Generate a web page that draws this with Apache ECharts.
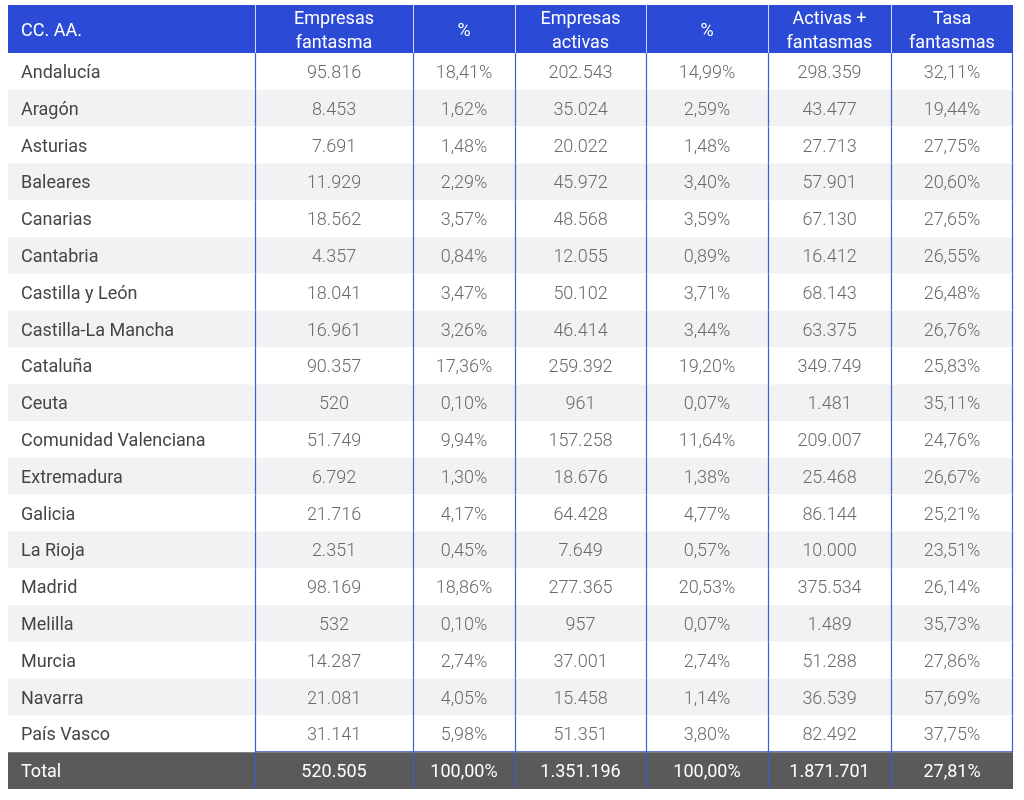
<!DOCTYPE html>
<html>
<head>
<meta charset="utf-8">
<script src="https://cdn.jsdelivr.net/npm/echarts@6/dist/echarts.min.js"></script>
<style>
html,body{margin:0;padding:0;background:#fff;}
#chart{width:1024px;height:800px;}
</style>
</head>
<body>
<div id="chart"></div>
<script>
// ---- data ----
const headers = ['CC. AA.', 'Empresas\nfantasma', '%', 'Empresas\nactivas', '%', 'Activas +\nfantasmas', 'Tasa\nfantasmas'];
const regions = ['Andalucía', 'Aragón', 'Asturias', 'Baleares', 'Canarias', 'Cantabria', 'Castilla y León',
  'Castilla-La Mancha', 'Cataluña', 'Ceuta', 'Comunidad Valenciana', 'Extremadura', 'Galicia', 'La Rioja',
  'Madrid', 'Melilla', 'Murcia', 'Navarra', 'País Vasco', 'Total'];
const empresasFantasma = [95816, 8453, 7691, 11929, 18562, 4357, 18041, 16961, 90357, 520, 51749, 6792, 21716, 2351, 98169, 532, 14287, 21081, 31141, 520505];
const pctFantasma = [18.41, 1.62, 1.48, 2.29, 3.57, 0.84, 3.47, 3.26, 17.36, 0.10, 9.94, 1.30, 4.17, 0.45, 18.86, 0.10, 2.74, 4.05, 5.98, 100.00];
const empresasActivas = [202543, 35024, 20022, 45972, 48568, 12055, 50102, 46414, 259392, 961, 157258, 18676, 64428, 7649, 277365, 957, 37001, 15458, 51351, 1351196];
const pctActivas = [14.99, 2.59, 1.48, 3.40, 3.59, 0.89, 3.71, 3.44, 19.20, 0.07, 11.64, 1.38, 4.77, 0.57, 20.53, 0.07, 2.74, 1.14, 3.80, 100.00];
const activasMasFantasmas = [298359, 43477, 27713, 57901, 67130, 16412, 68143, 63375, 349749, 1481, 209007, 25468, 86144, 10000, 375534, 1489, 51288, 36539, 82492, 1871701];
const tasaFantasmas = [32.11, 19.44, 27.75, 20.60, 27.65, 26.55, 26.48, 26.76, 25.83, 35.11, 24.76, 26.67, 25.21, 23.51, 26.14, 35.73, 27.86, 57.69, 37.75, 27.81];

// ---- layout (table units along x) ----
const colEdges = [0, 247, 405, 507, 638, 760, 883, 1005];

function fmtInt(v) {
  return String(v).replace(/\B(?=(\d{3})+(?!\d))/g, '.');
}
function fmtPct(v) {
  return v.toFixed(2).replace('.', ',') + '%';
}
const columnsData = [empresasFantasma, pctFantasma, empresasActivas, pctActivas, activasMasFantasmas, tasaFantasmas];
const columnFmt = [fmtInt, fmtPct, fmtInt, fmtPct, fmtInt, fmtPct];

function cellText(c, r) {
  if (c === 0) return regions[r];
  return columnFmt[c - 1](columnsData[c - 1][r]);
}

const bodyData = [];
for (let r = 0; r < regions.length; r++) {
  for (let c = 0; c < headers.length; c++) bodyData.push([c, r]);
}
const headerData = headers.map((h, c) => [c, 0]);

const BLUE = '#2b4bd6';
const LINE = '#3f5cd6';
const lastRow = regions.length - 1;

function renderBody(params, api) {
  const c = api.value(0), r = api.value(1);
  const p0 = api.coord([colEdges[c], r]);
  const p1 = api.coord([colEdges[c + 1], r]);
  const h = api.size([0, 1])[1];
  const x0 = p0[0], x1 = p1[0], yc = p0[1], y0 = yc - h / 2, y1 = yc + h / 2;
  const isTotal = r === lastRow;
  const fillBg = isTotal ? '#5a5a5a' : (r % 2 === 1 ? '#f1f2f4' : '#ffffff');
  const children = [{
    type: 'rect', shape: { x: x0, y: y0, width: x1 - x0, height: h },
    style: { fill: fillBg }
  }];
  const txtColor = isTotal ? '#ffffff' : (c === 0 ? '#454545' : '#6a6a6a');
  const weight = isTotal ? 400 : (c === 0 ? 400 : 300);
  children.push({
    type: 'text',
    style: {
      text: cellText(c, r),
      x: c === 0 ? x0 + 13 : (x0 + x1) / 2,
      y: yc + 2,
      align: c === 0 ? 'left' : 'center',
      verticalAlign: 'middle',
      fontFamily: 'Roboto',
      fontSize: 18,
      fontWeight: weight,
      fill: txtColor
    }
  });
  if (c >= 1) {
    children.push({ type: 'line', shape: { x1: x0 + 0.5, y1: y0, x2: x0 + 0.5, y2: y1 }, style: { stroke: LINE, lineWidth: 1.2 } });
  }
  if (c === headers.length - 1 && !isTotal) {
    children.push({ type: 'line', shape: { x1: x1 - 0.5, y1: y0, x2: x1 - 0.5, y2: y1 }, style: { stroke: LINE, lineWidth: 1.2 } });
  }
  if (r === lastRow - 1 && c >= 1) {
    children.push({ type: 'line', shape: { x1: x0, y1: y1 - 0.5, x2: x1, y2: y1 - 0.5 }, style: { stroke: LINE, lineWidth: 1 } });
  }
  return { type: 'group', children };
}

function renderHeader(params, api) {
  const c = api.value(0);
  const p0 = api.coord([colEdges[c], 0]);
  const p1 = api.coord([colEdges[c + 1], 0]);
  const h = api.size([0, 1])[1];
  const x0 = p0[0], x1 = p1[0], yc = p0[1], y0 = yc - h / 2, y1 = yc + h / 2;
  const children = [{
    type: 'rect', shape: { x: x0, y: y0, width: x1 - x0, height: h },
    style: { fill: BLUE }
  }, {
    type: 'text',
    style: {
      text: headers[c],
      x: c === 0 ? x0 + 13 : (x0 + x1) / 2,
      y: yc + 2,
      align: c === 0 ? 'left' : 'center',
      verticalAlign: 'middle',
      fontFamily: 'Roboto',
      fontSize: 18,
      lineHeight: 24,
      fontWeight: 400,
      fill: '#ffffff'
    }
  }];
  if (c >= 1) {
    children.push({ type: 'line', shape: { x1: x0 + 0.5, y1: y0, x2: x0 + 0.5, y2: y1 }, style: { stroke: 'rgba(225,232,255,0.9)', lineWidth: 1 } });
  }
  return { type: 'group', children };
}

const chart = echarts.init(document.getElementById('chart'), null, { renderer: 'canvas' });
chart.setOption({
  animation: false,
  grid: [
    { left: 8, width: 1005, top: 5, height: 48 },
    { left: 8, width: 1005, top: 53, height: 736 }
  ],
  xAxis: [
    { type: 'value', gridIndex: 0, min: 0, max: 1005, show: false },
    { type: 'value', gridIndex: 1, min: 0, max: 1005, show: false }
  ],
  yAxis: [
    { type: 'category', gridIndex: 0, data: ['header'], show: false },
    { type: 'category', gridIndex: 1, data: regions, inverse: true, show: false }
  ],
  series: [
    { type: 'custom', xAxisIndex: 0, yAxisIndex: 0, data: headerData, renderItem: renderHeader, clip: false },
    { type: 'custom', xAxisIndex: 1, yAxisIndex: 1, data: bodyData, renderItem: renderBody, clip: false }
  ]
});
</script>
</body>
</html>
